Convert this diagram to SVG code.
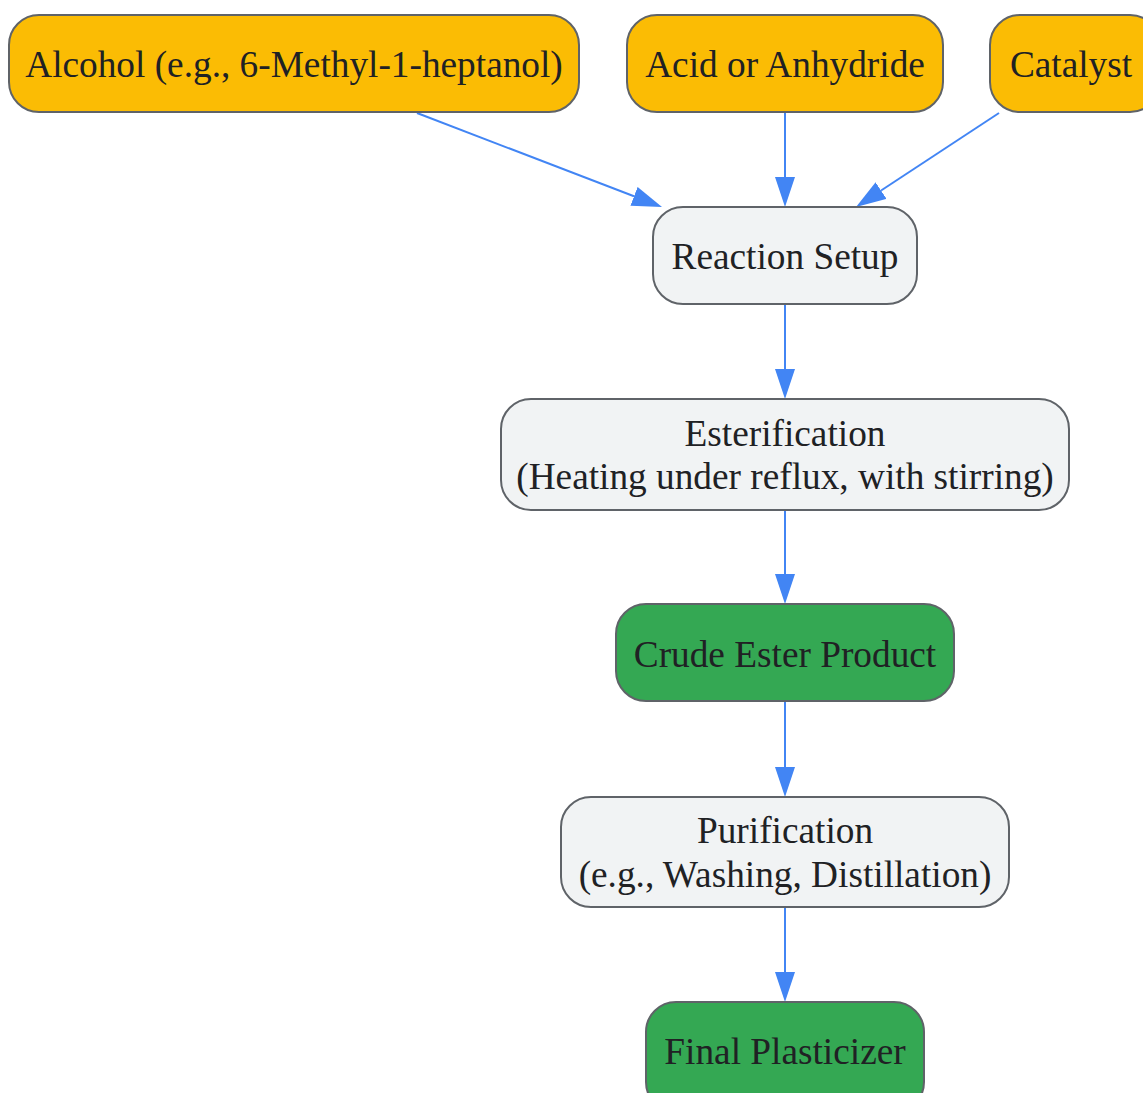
<svg xmlns="http://www.w3.org/2000/svg" width="1143" height="1093" viewBox="0 0 1143 1093">
<style>
.n rect{stroke:#5f6368;stroke-width:2}
.in rect{fill:#fbbc04}
.pr rect{fill:#f1f3f4}
.out rect{fill:#34a853}
text{font-family:"Liberation Serif","Times New Roman",serif;font-size:37.3px;fill:#202124;text-anchor:middle}
.e line{stroke:#4285f4;stroke-width:2;marker-end:url(#ah)}
</style>
<defs>
<marker id="ah" viewBox="0 0 30 20" markerWidth="30" markerHeight="20" refX="0" refY="10" orient="auto" markerUnits="userSpaceOnUse">
<path d="M0,0 L30,10 L0,20 z" fill="#4285f4"/>
</marker>
</defs>
<rect width="1143" height="1093" fill="#ffffff"/>
<g id="edges" class="e">
<line x1="417" y1="113" x2="634" y2="196.3"/>
<line x1="785" y1="112" x2="785" y2="177"/>
<line x1="999" y1="113" x2="881.1" y2="190.5"/>
<line x1="785" y1="304" x2="785" y2="369"/>
<line x1="785" y1="510" x2="785" y2="574"/>
<line x1="785" y1="701" x2="785" y2="767"/>
<line x1="785" y1="907" x2="785" y2="972"/>
</g>
<g id="alcohol" class="n in"><rect x="9" y="15" width="570" height="97" rx="30"/><text x="294" y="77">Alcohol (e.g., 6-Methyl-1-heptanol)</text></g>
<g id="acid" class="n in"><rect x="627" y="15" width="316" height="97" rx="30"/><text x="785" y="77">Acid or Anhydride</text></g>
<g id="catalyst" class="n in"><rect x="990" y="15" width="170" height="97" rx="30"/><text x="1071" y="77">Catalyst</text></g>
<g id="setup" class="n pr"><rect x="653" y="207" width="264" height="97" rx="30"/><text x="785" y="269">Reaction Setup</text></g>
<g id="esterification" class="n pr"><rect x="501" y="399" width="568" height="111" rx="30"/><text x="785" y="446">Esterification</text><text x="785" y="489">(Heating under reflux, with stirring)</text></g>
<g id="crude" class="n out"><rect x="616" y="604" width="338" height="97" rx="30"/><text x="785" y="667">Crude Ester Product</text></g>
<g id="purification" class="n pr"><rect x="561" y="797" width="448" height="110" rx="30"/><text x="785" y="843">Purification</text><text x="785" y="887">(e.g., Washing, Distillation)</text></g>
<g id="final" class="n out"><rect x="646" y="1002" width="278" height="110" rx="30"/><text x="785" y="1064">Final Plasticizer</text></g>
</svg>
